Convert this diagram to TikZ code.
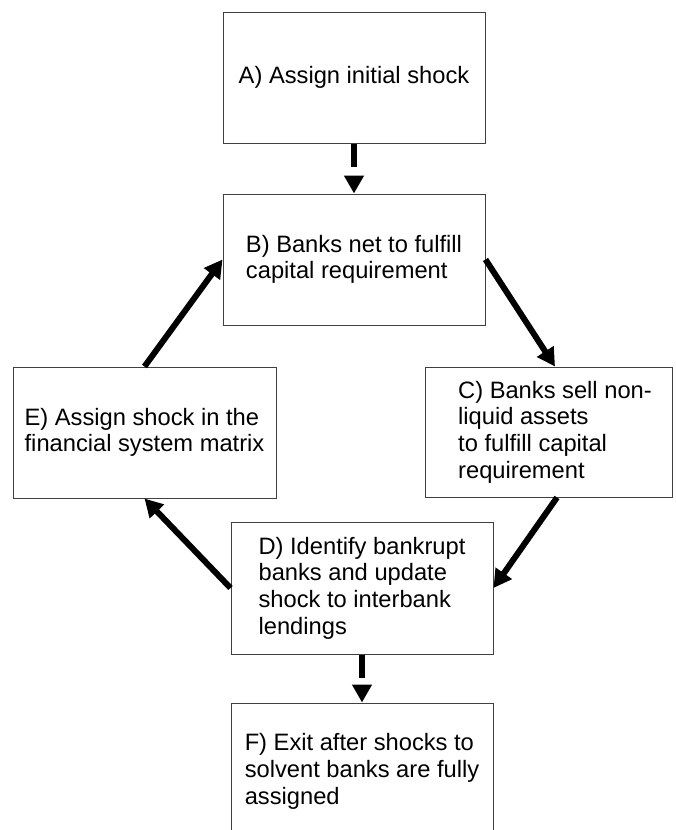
\documentclass[tikz,border=0pt]{standalone}
\usepackage{fontspec}
\setmainfont{Liberation Sans}
\usetikzlibrary{arrows.meta}
\tikzset{
  stepbox/.style={draw=black!75, line width=1pt, fill=white, inner sep=0pt,
    align=left, font=\fontsize{23.7}{26.7}\selectfont},
  flow/.style={line width=6pt, -{Triangle[length=18pt,width=19pt]}},
  flowgap/.style={flow, dash pattern=on 23pt off 60pt}
}
\begin{document}
\begin{tikzpicture}[x=1pt,y=-1pt]
\useasboundingbox (0,0) rectangle (676,830);
\node[stepbox, minimum width=262pt, minimum height=131pt] (A) at (354,77.5) {A) Assign initial shock};
\node[stepbox, minimum width=262pt, minimum height=131pt] (B) at (354,259.5) {B) Banks net to fulfill\\capital requirement};
\node[stepbox, minimum width=247pt, minimum height=130pt] (C) at (548.5,432) {\hspace*{13pt}C) Banks sell non-\\\hspace*{13pt}liquid assets\\\hspace*{13pt}to fulfill capital\\\hspace*{13pt}requirement};
\node[stepbox, minimum width=263pt, minimum height=131pt] (E) at (144.5,432.5) {E) Assign shock in the\\financial system matrix};
\node[stepbox, minimum width=262pt, minimum height=132pt] (D) at (362,588) {D) Identify bankrupt\\banks and update\\shock to interbank\\lendings};
\node[stepbox, minimum width=262pt, minimum height=137pt] (F) at (362,771.5) {F) Exit after shocks to\\solvent banks are fully\\assigned};
\draw[flowgap] (A.south) -- (B.north);
\draw[flowgap] (D.south) -- (F.north);
\draw[flow] (B.east) -- ([xshift=6.5pt]C.north);
\draw[flow] ([xshift=8.5pt]C.south) -- (D.east);
\draw[flow] (D.west) -- (E.south);
\draw[flow] (E.north) -- (B.west);
\end{tikzpicture}
\end{document}
